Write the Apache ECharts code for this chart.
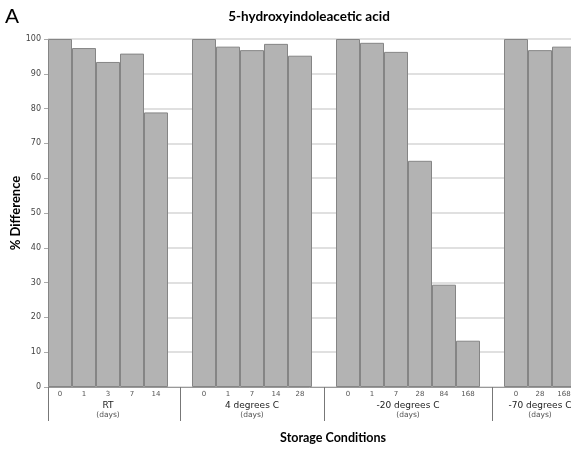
<!DOCTYPE html>
<html>
<head>
<meta charset="utf-8">
<script src="https://cdn.jsdelivr.net/npm/echarts@6/dist/echarts.min.js"></script>
<style>
  html, body { margin: 0; padding: 0; background: #fff; }
  #chart { width: 571px; height: 451px; }
</style>
</head>
<body>
<div id="chart"></div>
<script>
// Storage days per slot; empty strings are spacer slots between condition groups
const dayLabels = ['0', '1', '3', '7', '14', '',
                   '0', '1', '7', '14', '28', '',
                   '0', '1', '7', '28', '84', '168', '',
                   '0', '28', '168'];

// % difference relative to day 0, spacer slots left empty
const percentValues = [100, 97.4, 93.4, 95.8, 78.9, null,
                       100, 97.8, 96.8, 98.6, 95.2, null,
                       100, 98.9, 96.3, 65.0, 29.4, 13.3, null,
                       100, 96.8, 97.8];

// Storage condition groups: label, centre slot position, and divider positions
const groupNames = ['RT', '4 degrees C', '-20 degrees C', '-70 degrees C'];
const groupCenters = [2.5, 8.5, 15, 20.5];
const groupDividers = [0, 5.5, 11.5, 18.5];

const yTicks = { min: 0, max: 100, interval: 10 };

const chart = echarts.init(document.getElementById('chart'), null, { renderer: 'canvas' });

chart.setOption({
  animation: false,
  backgroundColor: '#ffffff',
  title: [
    {
      text: 'A',
      left: 0, top: 2,
      textStyle: { fontFamily: 'Liberation Sans, Arial, sans-serif', fontSize: 21, fontWeight: 'normal', color: '#000' }
    },
    {
      text: '5-hydroxyindoleacetic acid',
      left: 304, top: 5, textAlign: 'center',
      textStyle: { fontFamily: 'Lato, sans-serif', fontSize: 13.5, fontWeight: 'bold', color: '#000' }
    },
    {
      text: 'Storage Conditions',
      left: 328, top: 426, textAlign: 'center',
      textStyle: { fontFamily: 'Lato, sans-serif', fontSize: 12.5, fontWeight: 'bold', color: '#000' }
    }
  ],
  grid: { left: 48, top: 39, width: 528, height: 348, containLabel: false, outerBoundsMode: 'none' },
  xAxis: [
    {
      type: 'category',
      data: dayLabels,
      boundaryGap: true,
      axisLine: { show: true, lineStyle: { color: '#999', width: 1 } },
      axisTick: { show: false },
      axisLabel: {
        interval: 0, margin: 4,
        fontFamily: 'DejaVu Sans, Verdana, sans-serif', fontSize: 7, color: '#555'
      },
      splitLine: { show: false }
    },
    {
      type: 'value',
      position: 'bottom',
      min: 0, max: dayLabels.length,
      axisLine: { show: false },
      splitLine: { show: false },
      axisTick: {
        show: true, customValues: groupDividers, length: 34, inside: false,
        lineStyle: { color: '#777', width: 1 }
      },
      axisLabel: {
        show: true, customValues: groupCenters, margin: 13,
        formatter: function (v) {
          const i = groupCenters.indexOf(v);
          return i < 0 ? '' : '{g|' + groupNames[i] + '}\n{d|(days)}';
        },
        rich: {
          g: { fontFamily: 'DejaVu Sans, Verdana, sans-serif', fontSize: 9, color: '#222', lineHeight: 11, align: 'center' },
          d: { fontFamily: 'DejaVu Sans, Verdana, sans-serif', fontSize: 7.5, color: '#555', lineHeight: 9, align: 'center' }
        }
      }
    }
  ],
  yAxis: {
    type: 'value',
    min: yTicks.min, max: yTicks.max, interval: yTicks.interval,
    name: '% Difference',
    nameLocation: 'middle',
    nameGap: 26,
    nameMoveOverlap: false,
    nameTextStyle: { fontFamily: 'Lato, sans-serif', fontSize: 13, fontWeight: 'bold', color: '#000' },
    axisLine: { show: false },
    axisTick: { show: true, length: 4, lineStyle: { color: '#aaa' } },
    axisLabel: { margin: 7, fontFamily: 'DejaVu Sans, Verdana, sans-serif', fontSize: 8, color: '#444' },
    splitLine: { show: true, lineStyle: { color: '#d6d6d6', width: 1.5 } }
  },
  series: [
    {
      type: 'bar',
      xAxisIndex: 0,
      data: percentValues,
      barCategoryGap: '0%',
      itemStyle: { color: '#b3b3b3', borderColor: '#858585', borderWidth: 1 },
      silent: true
    }
  ]
});
</script>
</body>
</html>
